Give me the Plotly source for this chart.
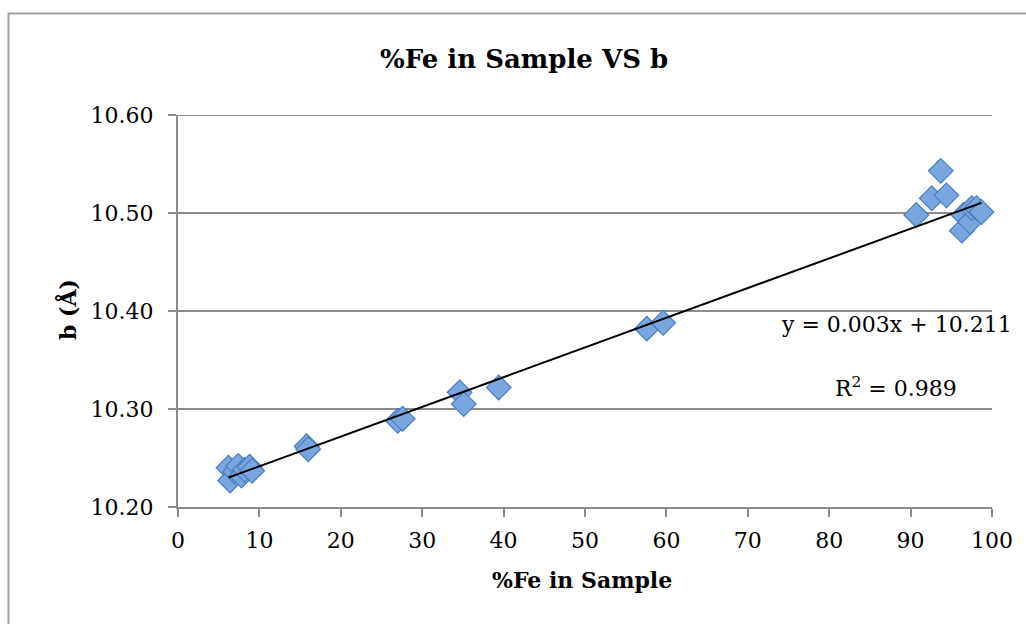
import plotly.graph_objects as go

# Iron content (%) of each sample and the measured b lattice parameter (Å)
fe_percent = [6.2, 6.4, 7.0, 7.4, 7.8, 8.2, 8.8, 9.1,
              15.8, 16.0,
              27.0, 27.6,
              34.6, 35.1, 39.4,
              57.6, 59.6,
              90.7, 92.6, 93.7, 94.4, 96.3, 96.5, 97.3, 97.5, 98.1, 98.7]
b_angstrom = [10.240, 10.227, 10.236, 10.242, 10.232, 10.238, 10.241, 10.237,
              10.262, 10.259,
              10.288, 10.290,
              10.317, 10.305, 10.322,
              10.382, 10.388,
              10.498, 10.515, 10.543, 10.518, 10.482, 10.498, 10.491, 10.505, 10.505, 10.501]

# Linear trend: y = slope * x + intercept
trend_slope = 0.00303
trend_intercept = 10.2113
r_squared = 0.989

x_ticks = [0, 10, 20, 30, 40, 50, 60, 70, 80, 90, 100]
y_ticks = [10.20, 10.30, 10.40, 10.50, 10.60]

W, H = 1026, 624
L, R, T, B = 178, 992, 115, 507  # plot area in pixels

def px_x(p):
    return (p - L) / (R - L)

def px_y(p):
    return (B - p) / (B - T)

serif = "DejaVu Serif"
fs = 22
axis_grey = "#8c8c8c"

trend_x = [min(fe_percent), max(fe_percent)]
trend_y = [trend_slope * v + trend_intercept for v in trend_x]

fig = go.Figure()
fig.add_trace(go.Scatter(
    x=fe_percent, y=b_angstrom, mode="markers",
    marker=dict(symbol="diamond", size=19, color="#79a6df",
                line=dict(color="#4a7ebb", width=1.2)),
    showlegend=False, cliponaxis=False,
))
fig.add_trace(go.Scatter(
    x=trend_x, y=trend_y, mode="lines",
    line=dict(color="black", width=2), showlegend=False,
))

def centred(text, x, y, size, angle=0):
    return dict(text=text, xref="paper", yref="paper", x=px_x(x), y=px_y(y),
                xanchor="center", yanchor="middle", showarrow=False,
                textangle=angle, font=dict(size=size, family=serif, color="black"))

fig.update_layout(
    width=W, height=H,
    margin=dict(l=L, r=W - R, t=T, b=H - B),
    paper_bgcolor="white", plot_bgcolor="white",
    font=dict(family=serif, color="black", size=fs),
    xaxis=dict(range=[0, 100], tickvals=x_ticks, ticks="outside", ticklen=8,
               tickwidth=2, tickcolor=axis_grey, showline=True, linecolor=axis_grey,
               linewidth=2, showgrid=False, zeroline=False, ticklabelstandoff=5,
               tickfont=dict(size=fs, family=serif)),
    yaxis=dict(range=[10.20, 10.60], tickvals=y_ticks, tickformat=".2f",
               ticks="outside", ticklen=8, tickwidth=2, tickcolor=axis_grey,
               showline=True, linecolor=axis_grey, linewidth=2, ticklabelstandoff=10,
               showgrid=True, gridcolor=axis_grey, gridwidth=2, zeroline=False,
               tickfont=dict(size=fs, family=serif)),
    shapes=[
        dict(type="rect", xref="paper", yref="paper",
             x0=px_x(8.5), x1=px_x(1040), y0=px_y(640), y1=px_y(13.5),
             line=dict(color="#a0a0a0", width=2), fillcolor="rgba(0,0,0,0)",
             layer="below"),
        # top gridline at the upper edge of the value range
        dict(type="line", xref="paper", yref="y", x0=0, x1=1,
             y0=y_ticks[-1], y1=y_ticks[-1],
             line=dict(color=axis_grey, width=2), layer="below"),
    ],
    annotations=[
        centred("<b>%Fe in Sample VS b</b>", 524, 59, 26),
        centred("<b>%Fe in Sample</b>", 582, 580, 22),
        centred("<b>b (Å)</b>", 68, 310, 22, angle=-90),
        centred(f"y = {trend_slope:.3f}x + {trend_intercept:.3f}", 896, 324, fs),
        centred(f"R<sup>2</sup> = {r_squared:.3f}", 896, 387, fs),
    ],
)

fig.write_html("out.html")
